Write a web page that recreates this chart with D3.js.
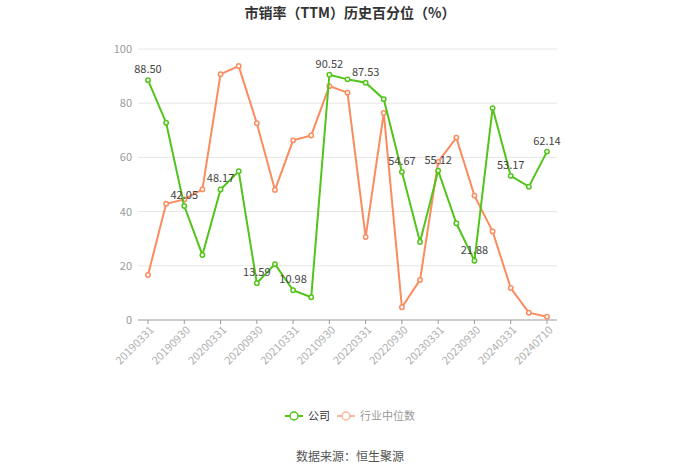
<!DOCTYPE html>
<html>
<head>
<meta charset="utf-8">
<script src="https://cdn.jsdelivr.net/npm/d3@7/dist/d3.min.js"></script>
<style>
  body { margin: 0; background: #fff; }
  svg { display: block; font-family: "Noto Sans CJK SC", "Noto Sans", sans-serif; }
</style>
</head>
<body>
<div class="vis-chart"></div>
<script>
const dates = ["20190331","20190630","20190930","20191231","20200331","20200630","20200930","20201231",
  "20210331","20210630","20210930","20211231","20220331","20220630","20220930","20221231",
  "20230331","20230630","20230930","20231231","20240331","20240630","20240710"];
const company = [88.50, 72.8, 42.05, 24.0, 48.17, 54.9, 13.59, 20.6, 10.98, 8.4, 90.52, 88.8,
  87.53, 81.5, 54.67, 28.8, 55.12, 35.7, 21.88, 78.2, 53.17, 49.2, 62.14];
const industry = [16.6, 42.9, 44.5, 48.2, 90.7, 93.7, 72.6, 48.0, 66.3, 68.1, 86.3, 83.9,
  30.6, 76.4, 4.7, 14.8, 58.3, 67.3, 45.9, 32.7, 11.8, 2.7, 1.2];
const yTicks = [0, 20, 40, 60, 80, 100];

const draw = () => {
    const width = 700, height = 474;
    const margin = {top: 49, right: 143, bottom: 154, left: 138};
    const green = "#52c41a", orange = "#fa8c5f";

    let svg = d3.select('.vis-chart')
                .append('svg')
                .attr('width', width)
                .attr('height', height);

    let xScale = d3.scalePoint()
                   .domain(dates)
                   .range([148, 547]);
    let yScale = d3.scaleLinear()
                   .domain([0, 100])
                   .range([height - margin.bottom, margin.top]);

    // title
    svg.append("text")
       .attr("x", 350).attr("y", 18)
       .attr("text-anchor", "middle")
       .style("font-size", "14px").style("font-weight", "bold")
       .attr("fill", "#333")
       .text("市销率（TTM）历史百分位（%）");

    // grid + y labels
    svg.append("g").selectAll("line")
       .data(yTicks.filter(d => d > 0))
       .join("line")
       .attr("x1", margin.left).attr("x2", width - margin.right)
       .attr("y1", d => yScale(d)).attr("y2", d => yScale(d))
       .attr("stroke", "#e6e6e6");
    svg.append("g").selectAll("text")
       .data(yTicks)
       .join("text")
       .attr("x", margin.left - 6)
       .attr("y", d => yScale(d) + 4)
       .attr("text-anchor", "end")
       .style("font-size", "11px")
       .attr("fill", "#9a9a9a")
       .text(d => d);

    // x axis
    let xAxis = svg.append("g")
       .attr("transform", "translate(0," + yScale(0) + ")");
    xAxis.append("line")
       .attr("x1", margin.left).attr("x2", width - margin.right)
       .attr("stroke", "#999");
    let shown = dates.filter((d, i) => i % 2 === 0);
    xAxis.selectAll(".tick")
       .data(shown)
       .join("line")
       .attr("x1", d => xScale(d)).attr("x2", d => xScale(d))
       .attr("y1", 0).attr("y2", 4)
       .attr("stroke", "#999");
    xAxis.selectAll(".lbl")
       .data(shown)
       .join("text")
       .attr("transform", d => "translate(" + (xScale(d) + 2) + ",6) rotate(-45)")
       .attr("text-anchor", "end")
       .attr("dy", "0.6em")
       .style("font-size", "11px")
       .attr("fill", "#b0b0b0")
       .text(d => d);

    const series = [
        {name: "行业中位数", values: industry, color: orange},
        {name: "公司", values: company, color: green}
    ];
    let line = d3.line()
                 .x((d, i) => xScale(dates[i]))
                 .y(d => yScale(d));

    series.forEach(s => {
        svg.append("path")
           .datum(s.values)
           .attr("d", line)
           .attr("fill", "none")
           .attr("stroke", s.color)
           .attr("stroke-width", 2);
        svg.append("g").selectAll("circle")
           .data(s.values)
           .join("circle")
           .attr("cx", (d, i) => xScale(dates[i]))
           .attr("cy", d => yScale(d))
           .attr("r", 2.2)
           .attr("fill", "#fff")
           .attr("stroke", s.color)
           .attr("stroke-width", 1.5);
    });

    // labels on company series
    svg.append("g").selectAll("text")
       .data(company.map((v, i) => ({v, i})).filter(d => d.i % 2 === 0))
       .join("text")
       .attr("x", d => xScale(dates[d.i]))
       .attr("y", d => yScale(d.v) - 7)
       .attr("text-anchor", "middle")
       .style("font-size", "11px")
       .attr("fill", "#444")
       .text(d => d.v.toFixed(2));

    // legend
    const legend = [
        {name: "公司", color: green, text: "#333", x: 285},
        {name: "行业中位数", color: "#f7b79a", text: "#999", x: 337}
    ];
    let lg = svg.append("g").selectAll("g")
       .data(legend)
       .join("g")
       .attr("transform", d => "translate(" + d.x + ",416)");
    lg.append("line")
      .attr("x1", 0).attr("x2", 18)
      .attr("stroke", d => d.color).attr("stroke-width", 2);
    lg.append("circle")
      .attr("cx", 9).attr("r", 4)
      .attr("fill", "#fff")
      .attr("stroke", d => d.color).attr("stroke-width", 1.5);
    lg.append("text")
      .attr("x", 23).attr("y", 4)
      .style("font-size", "11px")
      .attr("fill", d => d.text)
      .text(d => d.name);

    // source
    svg.append("text")
       .attr("x", 350).attr("y", 461)
       .attr("text-anchor", "middle")
       .style("font-size", "12px")
       .attr("fill", "#555")
       .text("数据来源：恒生聚源");
};

draw();
</script>
</body>
</html>
